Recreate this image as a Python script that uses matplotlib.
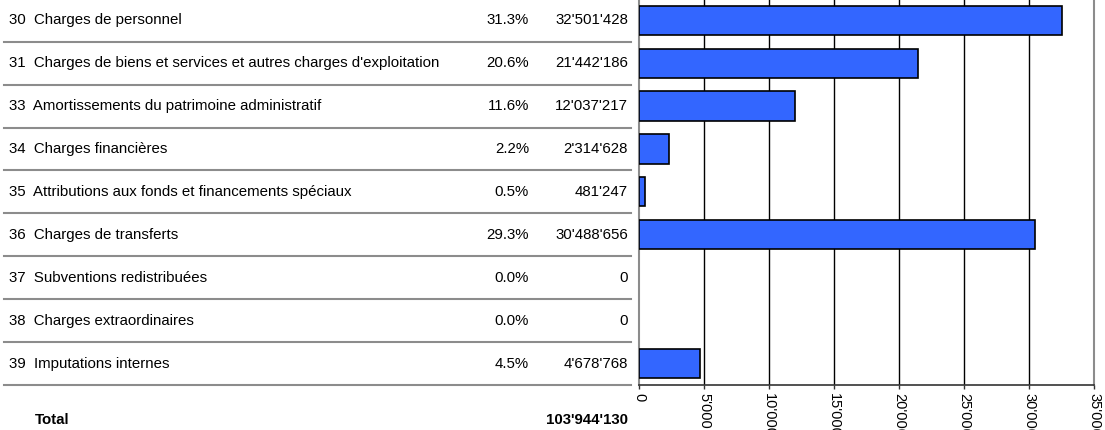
import matplotlib.pyplot as plt
import numpy as np

plt.rcParams['font.family'] = ['Liberation Sans', 'DejaVu Sans']

labels = ['30  Charges de personnel',
          "31  Charges de biens et services et autres charges d'exploitation",
          '33  Amortissements du patrimoine administratif',
          '34  Charges financières',
          '35  Attributions aux fonds et financements spéciaux',
          '36  Charges de transferts',
          '37  Subventions redistribuées',
          '38  Charges extraordinaires',
          '39  Imputations internes']
percents = [31.3, 20.6, 11.6, 2.2, 0.5, 29.3, 0.0, 0.0, 4.5]
amounts = [32501428, 21442186, 12037217, 2314628, 481247, 30488656, 0, 0, 4678768]
total = 103944130
ticks = [0, 5000, 10000, 15000, 20000, 25000, 30000, 35000]


def fmt(v):
    return f'{v:,.0f}'.replace(',', "'")


W, H = 1105, 430
fig = plt.figure(figsize=(W / 100, H / 100), dpi=100)

y_top, y_bot = -1.2, 385  # pixels from top
bottom = (H - y_bot) / H
height = (y_bot - y_top) / H
n = len(labels)
rows = np.arange(n)
fs = 10.8

# left table
axt = fig.add_axes([0, bottom, 639 / W, height])
axt.set_xlim(0, 639)
axt.set_ylim(n - 0.5, -0.5)
axt.axis('off')
for i in rows:
    axt.text(9, i, labels[i], fontsize=fs, va='center', ha='left')
    axt.text(529, i, f'{percents[i]:.1f}%', fontsize=fs, va='center', ha='right')
    axt.text(628, i, fmt(amounts[i]), fontsize=fs, va='center', ha='right')
    axt.plot([4, 631], [i + 0.5, i + 0.5], color='#8c8c8c', lw=1.5, clip_on=False)

fig.text(35 / W, 1 - 420 / H, 'Total', fontsize=fs, fontweight='bold', va='center', ha='left')
fig.text(628 / W, 1 - 420 / H, fmt(total), fontsize=fs, fontweight='bold', va='center', ha='right')

# bar chart
ax = fig.add_axes([639 / W, bottom, (1094 - 639) / W, height])
vals = np.array(amounts) / 1000
ax.barh(rows, vals, height=0.68, color='#3366ff',
        edgecolor='black', linewidth=[1.2 if v > 0 else 0 for v in vals], zorder=3)
ax.set_ylim(n - 0.5, -0.5)
ax.set_xlim(0, 35000)
ax.set_xticks(ticks)
ax.set_xticklabels([fmt(t) for t in ticks], rotation=270, fontsize=10.5)
ax.tick_params(axis='x', direction='out', length=3, width=1, pad=3, colors='#333333')
ax.tick_params(axis='x', labelcolor='black')
ax.set_yticks([])
for t in ticks[1:-1]:
    ax.axvline(t, color='black', lw=1, zorder=1)
ax.spines['top'].set_visible(False)
ax.spines['left'].set_color('#8c8c8c')
ax.spines['left'].set_linewidth(1.5)
ax.spines['right'].set_color('#8c8c8c')
ax.spines['right'].set_linewidth(1.5)
ax.spines['bottom'].set_color('#333333')
ax.spines['bottom'].set_linewidth(1.2)

fig.savefig('out.png', dpi=100)
